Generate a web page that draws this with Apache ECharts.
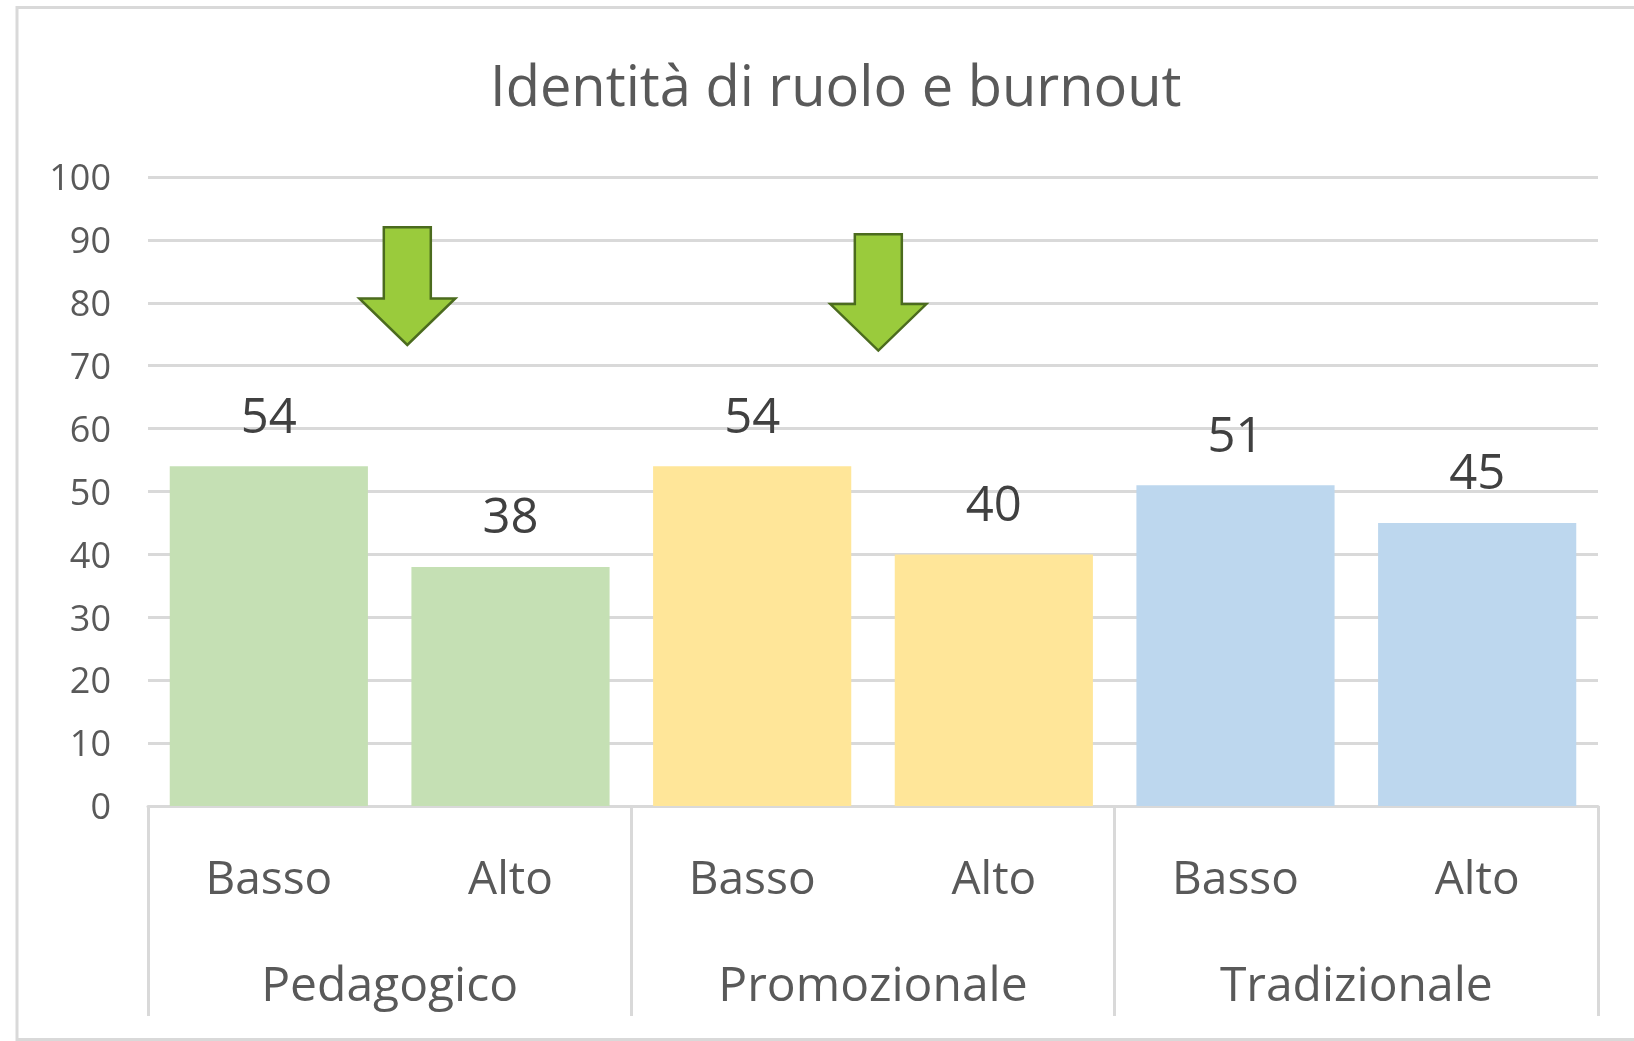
<!DOCTYPE html>
<html>
<head>
<meta charset="utf-8">
<script src="https://cdn.jsdelivr.net/npm/echarts@6/dist/echarts.min.js"></script>
<style>
html,body{margin:0;padding:0;background:#fff;}
#c{width:1634px;height:1041px;}
</style>
</head>
<body>
<div id="c"></div>
<script>
// ---- data ----
const titleText = 'Identità di ruolo e burnout';
const levels = ['Basso', 'Alto', 'Basso', 'Alto', 'Basso', 'Alto'];
const groups = ['Pedagogico', 'Promozionale', 'Tradizionale'];
const values = [54, 38, 54, 40, 51, 45];
const barColors = ['#C5E0B4', '#C5E0B4', '#FFE699', '#FFE699', '#BDD7EE', '#BDD7EE'];
const yTicks = [0, 10, 20, 30, 40, 50, 60, 70, 80, 90, 100];
// arrows: [x position in category-index units, top value, tip value]
const arrowMarks = [[0.573, 92.0, 73.3], [2.522, 90.9, 72.4]];

const FONT = '"Open Sans", sans-serif';
const TXT = '#595959';
const LINE = '#D9D9D9';

const chart = echarts.init(document.getElementById('c'), null, {renderer: 'canvas'});

const option = {
  backgroundColor: '#fff',
  animation: false,
  title: {
    text: titleText,
    left: 490,
    top: 59,
    padding: 0,
    textStyle: {fontFamily: FONT, fontSize: 56, fontWeight: 'normal', color: TXT, lineHeight: 62}
  },
  grid: {left: 148, right: 36, top: 177, bottom: 235, containLabel: false},
  xAxis: [
    {
      type: 'category',
      data: levels,
      position: 'bottom',
      axisLine: {show: true, lineStyle: {color: LINE, width: 3}},
      axisTick: {show: false},
      axisLabel: {interval: 0, margin: 52, fontFamily: FONT, fontSize: 46, color: TXT, lineHeight: 46},
      splitLine: {show: false}
    },
    {
      type: 'category',
      data: groups,
      position: 'bottom',
      axisLine: {show: false},
      axisTick: {show: true, length: 210, interval: 0, lineStyle: {color: LINE, width: 3}},
      axisLabel: {interval: 0, margin: 157, fontFamily: FONT, fontSize: 48, color: TXT, lineHeight: 48},
      splitLine: {show: false}
    }
  ],
  yAxis: {
    type: 'value',
    min: yTicks[0],
    max: yTicks[yTicks.length - 1],
    interval: yTicks[1] - yTicks[0],
    axisLine: {show: false},
    axisTick: {show: false},
    axisLabel: {margin: 37, fontFamily: FONT, fontSize: 36, color: TXT, verticalAlign: 'top', lineHeight: 6},
    splitLine: {show: true, lineStyle: {color: LINE, width: 3}}
  },
  series: [{
    type: 'bar',
    xAxisIndex: 0,
    data: values.map((v, i) => ({value: v, itemStyle: {color: barColors[i]}})),
    barCategoryGap: '18%',
    label: {
      show: true,
      position: 'top',
      distance: 23,
      fontFamily: FONT,
      fontSize: 49,
      color: '#404040'
    },
    z: 3
  }]
};
chart.setOption(option);

// ---- arrows & border ----
function xAt(pos) {
  const i0 = Math.floor(pos);
  const p0 = chart.convertToPixel({xAxisIndex: 0}, i0);
  const p1 = chart.convertToPixel({xAxisIndex: 0}, i0 + 1);
  return p0 + (pos - i0) * (p1 - p0);
}
const SHAFT = 23.5, HEAD = 48, HEADLEN = 46.5;
const graphics = [{
  type: 'rect',
  shape: {x: 17, y: 7.5, width: 1700, height: 1032},
  style: {fill: 'none', stroke: LINE, lineWidth: 3},
  silent: true,
  z: 0
}];
arrowMarks.forEach(([pos, top, tip]) => {
  const cx = xAt(pos);
  const yTop = chart.convertToPixel({yAxisIndex: 0}, top);
  const yTip = chart.convertToPixel({yAxisIndex: 0}, tip);
  const yHead = yTip - HEADLEN;
  graphics.push({
    type: 'polygon',
    shape: {points: [
      [cx - SHAFT, yTop], [cx + SHAFT, yTop], [cx + SHAFT, yHead], [cx + HEAD, yHead],
      [cx, yTip], [cx - HEAD, yHead], [cx - SHAFT, yHead]
    ]},
    style: {fill: '#9ACB3C', stroke: '#4B6B1E', lineWidth: 2.5, lineJoin: 'miter'},
    z: 10
  });
});
chart.setOption({graphic: graphics});
</script>
</body>
</html>
